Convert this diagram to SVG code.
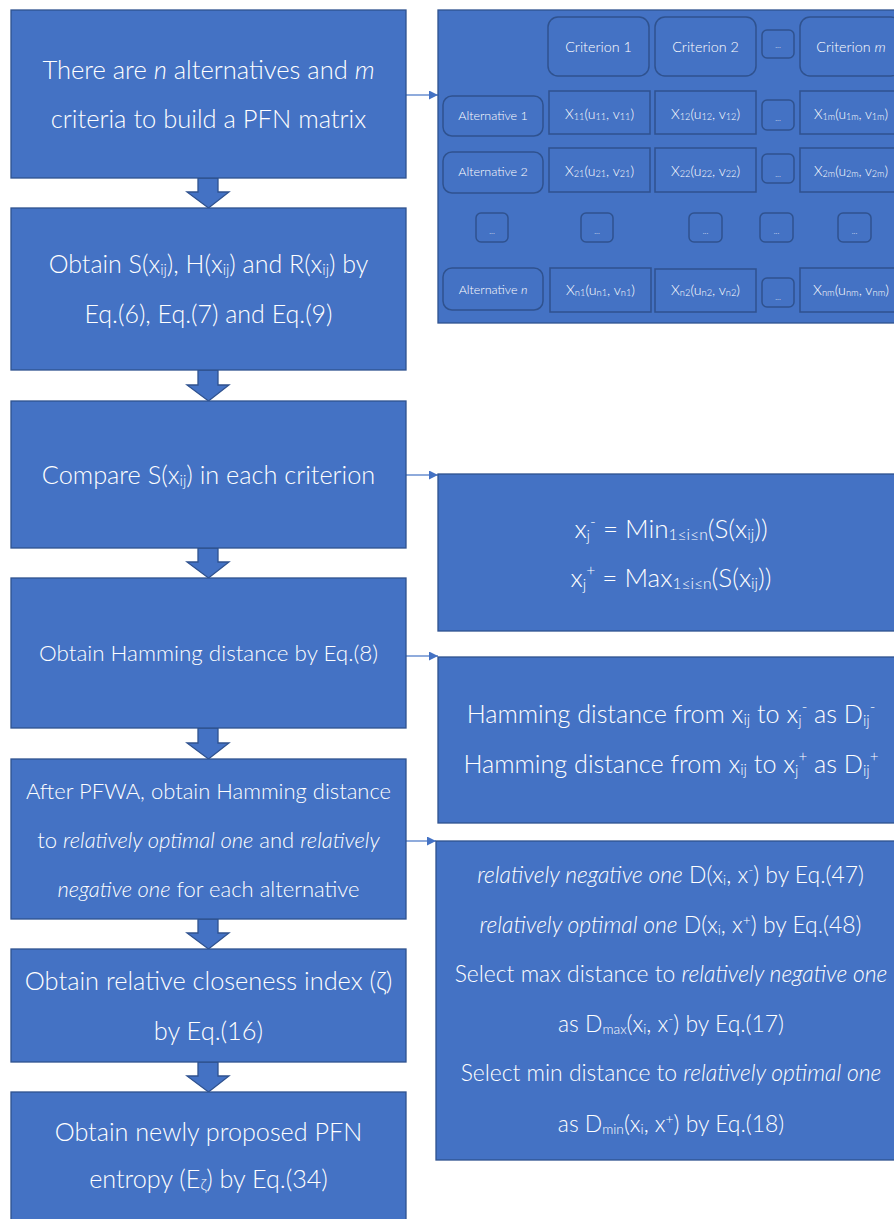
<svg xmlns="http://www.w3.org/2000/svg" width="894" height="1219" viewBox="0 0 894 1219">
<defs>
<style>
.box{fill:#4472C4;stroke:#2F528F;stroke-width:1.3}
.cell{fill:#4472C4;stroke:#2F528F;stroke-width:1.5}
.t{fill:#FFFFFF;font-family:Lato,"Open Sans","Noto Sans",sans-serif;font-weight:300;text-anchor:middle}
.s{font-size:60%}
.ms{font-size:66%}
.i{font-style:italic}
.blk{fill:#4472C4;stroke:#2F528F;stroke-width:1.3}
.ln{stroke:#4472C4;stroke-width:1.2;fill:none}
</style>
<marker id="ah" markerUnits="userSpaceOnUse" markerWidth="10" markerHeight="10" refX="9" refY="4.5" orient="auto">
<path d="M0,0 L9,4.5 L0,9 z" fill="#4472C4"/>
</marker>
</defs>
<rect width="894" height="1219" fill="#FFFFFF"/>

<g id="connectors">
<path class="blk" d="M198,178 H218 V192 H229 L208.5,208 L187,192 H198 Z"/>
<path class="blk" d="M198,370 H218 V385 H229 L208.5,401 L187,385 H198 Z"/>
<path class="blk" d="M198,548 H218 V562 H229 L208.5,578 L187,562 H198 Z"/>
<path class="blk" d="M198,728 H218 V743 H229 L208.5,759 L187,743 H198 Z"/>
<path class="blk" d="M198,919 H218 V933 H229 L208.5,949 L187,933 H198 Z"/>
<path class="blk" d="M198,1062 H218 V1076 H229 L208.5,1092 L187,1076 H198 Z"/>
<line class="ln" x1="406" y1="95" x2="438" y2="95" marker-end="url(#ah)"/>
<line class="ln" x1="406" y1="475" x2="438" y2="475" marker-end="url(#ah)"/>
<line class="ln" x1="406" y1="656" x2="438" y2="656" marker-end="url(#ah)"/>
<line class="ln" x1="406" y1="841" x2="436" y2="841" marker-end="url(#ah)"/>
</g>

<g id="step1">
<rect class="box" x="11" y="10" width="395" height="168"/>
<text class="t" font-size="25.5" x="208.5" y="79">There are <tspan class="i">n</tspan> alternatives and <tspan class="i">m</tspan></text>
<text class="t" font-size="25.5" x="208.5" y="128">criteria to build a PFN matrix</text>
</g>

<g id="step2">
<rect class="box" x="11" y="208" width="395" height="162"/>
<text class="t" font-size="25" x="208.5" y="273">Obtain S(x<tspan class="s" dy="2">ij</tspan><tspan dy="-2">), H(x</tspan><tspan class="s" dy="2">ij</tspan><tspan dy="-2">) and R(x</tspan><tspan class="s" dy="2">ij</tspan><tspan dy="-2">) by</tspan></text>
<text class="t" font-size="25" x="208.5" y="323">Eq.(6), Eq.(7) and Eq.(9)</text>
</g>

<g id="step3">
<rect class="box" x="11" y="401" width="395" height="147"/>
<text class="t" font-size="25.3" x="208.5" y="484">Compare S(x<tspan class="s" dy="2">ij</tspan><tspan dy="-2">) in each criterion</tspan></text>
</g>

<g id="step4">
<rect class="box" x="11" y="578" width="395" height="150"/>
<text class="t" font-size="22.4" x="208.5" y="661">Obtain Hamming distance by Eq.(8)</text>
</g>

<g id="step5">
<rect class="box" x="11" y="759" width="395" height="160"/>
<text class="t" font-size="22" x="208.5" y="799">After PFWA, obtain Hamming distance</text>
<text class="t" font-size="22" x="208.5" y="848">to <tspan class="i">relatively optimal one</tspan> and <tspan class="i">relatively</tspan></text>
<text class="t" font-size="22" x="208.5" y="897"><tspan class="i">negative one</tspan> for each alternative</text>
</g>

<g id="step6">
<rect class="box" x="11" y="949" width="395" height="113"/>
<text class="t" font-size="25.4" x="208.5" y="990">Obtain relative closeness index (ζ)</text>
<text class="t" font-size="25.4" x="208.5" y="1040">by Eq.(16)</text>
</g>

<g id="step7">
<rect class="box" x="11" y="1092" width="395" height="140"/>
<text class="t" font-size="25.2" x="208.5" y="1141">Obtain newly proposed PFN</text>
<text class="t" font-size="25.2" x="208.5" y="1188">entropy (E<tspan class="s" dy="2">ζ</tspan><tspan dy="-2">) by Eq.(34)</tspan></text>
</g>

<g id="matrix">
<rect class="box" x="438" y="10" width="470" height="313"/>
<g id="criterion1"><rect class="cell" x="548" y="17" width="101" height="59" rx="10"/><text class="t" font-size="14.3" x="598.5" y="52">Criterion 1</text></g>
<g id="criterion2"><rect class="cell" x="655" y="17" width="101" height="59" rx="10"/><text class="t" font-size="14.3" x="705.5" y="52">Criterion 2</text></g>
<g id="criterion-dots"><rect class="cell" x="762" y="30" width="32" height="28" rx="5"/><text class="t" font-size="8" x="778" y="48">...</text></g>
<g id="criterionm"><rect class="cell" x="800" y="17" width="101" height="59" rx="10"/><text class="t" font-size="14.3" x="851" y="52">Criterion <tspan class="i">m</tspan></text></g>

<g id="alt1"><rect class="cell" x="443" y="96" width="100" height="40" rx="9"/><text class="t" font-size="12.5" x="493" y="120">Alternative 1</text></g>
<g id="x11"><rect class="cell" x="549" y="91" width="101" height="43"/><text class="t" font-size="14" x="599.5" y="119" textLength="69" lengthAdjust="spacingAndGlyphs">X<tspan class="ms" dy="1">11</tspan><tspan dy="-1">(u</tspan><tspan class="ms" dy="1">11</tspan><tspan dy="-1">, v</tspan><tspan class="ms" dy="1">11</tspan><tspan dy="-1">)</tspan></text></g>
<g id="x12"><rect class="cell" x="655" y="91" width="101" height="43"/><text class="t" font-size="14" x="705.5" y="119" textLength="69" lengthAdjust="spacingAndGlyphs">X<tspan class="ms" dy="1">12</tspan><tspan dy="-1">(u</tspan><tspan class="ms" dy="1">12</tspan><tspan dy="-1">, v</tspan><tspan class="ms" dy="1">12</tspan><tspan dy="-1">)</tspan></text></g>
<g id="row1-dots"><rect class="cell" x="762" y="100" width="32" height="30" rx="5"/><text class="t" font-size="8" x="778" y="121">...</text></g>
<g id="x1m"><rect class="cell" x="800" y="91" width="101" height="43"/><text class="t" font-size="14" x="851" y="119" textLength="74" lengthAdjust="spacingAndGlyphs">X<tspan class="ms" dy="1">1m</tspan><tspan dy="-1">(u</tspan><tspan class="ms" dy="1">1m</tspan><tspan dy="-1">, v</tspan><tspan class="ms" dy="1">1m</tspan><tspan dy="-1">)</tspan></text></g>

<g id="alt2"><rect class="cell" x="443" y="152" width="100" height="41" rx="9"/><text class="t" font-size="12.5" x="493" y="176">Alternative 2</text></g>
<g id="x21"><rect class="cell" x="549" y="148" width="101" height="44"/><text class="t" font-size="14" x="599.5" y="176" textLength="69" lengthAdjust="spacingAndGlyphs">X<tspan class="ms" dy="1">21</tspan><tspan dy="-1">(u</tspan><tspan class="ms" dy="1">21</tspan><tspan dy="-1">, v</tspan><tspan class="ms" dy="1">21</tspan><tspan dy="-1">)</tspan></text></g>
<g id="x22"><rect class="cell" x="655" y="148" width="101" height="44"/><text class="t" font-size="14" x="705.5" y="176" textLength="69" lengthAdjust="spacingAndGlyphs">X<tspan class="ms" dy="1">22</tspan><tspan dy="-1">(u</tspan><tspan class="ms" dy="1">22</tspan><tspan dy="-1">, v</tspan><tspan class="ms" dy="1">22</tspan><tspan dy="-1">)</tspan></text></g>
<g id="row2-dots"><rect class="cell" x="762" y="154" width="32" height="29" rx="5"/><text class="t" font-size="8" x="778" y="177">...</text></g>
<g id="x2m"><rect class="cell" x="800" y="148" width="101" height="44"/><text class="t" font-size="14" x="851" y="176" textLength="74" lengthAdjust="spacingAndGlyphs">X<tspan class="ms" dy="1">2m</tspan><tspan dy="-1">(u</tspan><tspan class="ms" dy="1">2m</tspan><tspan dy="-1">, v</tspan><tspan class="ms" dy="1">2m</tspan><tspan dy="-1">)</tspan></text></g>

<g id="dots-alt"><rect class="cell" x="476" y="213" width="32" height="29" rx="5"/><text class="t" font-size="8" x="492" y="234">...</text></g>
<g id="dots-c1"><rect class="cell" x="581" y="213" width="32" height="29" rx="5"/><text class="t" font-size="8" x="597" y="234">...</text></g>
<g id="dots-c2"><rect class="cell" x="689" y="213" width="33" height="29" rx="5"/><text class="t" font-size="8" x="705.5" y="234">...</text></g>
<g id="dots-c3"><rect class="cell" x="760" y="213" width="33" height="29" rx="5"/><text class="t" font-size="8" x="776.5" y="234">...</text></g>
<g id="dots-cm"><rect class="cell" x="838" y="213" width="33" height="29" rx="5"/><text class="t" font-size="8" x="854.5" y="234">...</text></g>

<g id="altn"><rect class="cell" x="443" y="268" width="100" height="42" rx="9"/><text class="t" font-size="12.5" x="493" y="294">Alternative <tspan class="i">n</tspan></text></g>
<g id="xn1"><rect class="cell" x="550" y="268" width="101" height="44"/><text class="t" font-size="14" x="600.5" y="295" textLength="69" lengthAdjust="spacingAndGlyphs">X<tspan class="ms" dy="1">n1</tspan><tspan dy="-1">(u</tspan><tspan class="ms" dy="1">n1</tspan><tspan dy="-1">, v</tspan><tspan class="ms" dy="1">n1</tspan><tspan dy="-1">)</tspan></text></g>
<g id="xn2"><rect class="cell" x="655" y="269" width="101" height="43"/><text class="t" font-size="14" x="705.5" y="295" textLength="69" lengthAdjust="spacingAndGlyphs">X<tspan class="ms" dy="1">n2</tspan><tspan dy="-1">(u</tspan><tspan class="ms" dy="1">n2</tspan><tspan dy="-1">, v</tspan><tspan class="ms" dy="1">n2</tspan><tspan dy="-1">)</tspan></text></g>
<g id="rown-dots"><rect class="cell" x="762" y="278" width="32" height="29" rx="5"/><text class="t" font-size="8" x="778" y="300">...</text></g>
<g id="xnm"><rect class="cell" x="800" y="268" width="101" height="44"/><text class="t" font-size="14" x="851" y="295" textLength="76" lengthAdjust="spacingAndGlyphs">X<tspan class="ms" dy="1">nm</tspan><tspan dy="-1">(u</tspan><tspan class="ms" dy="1">nm</tspan><tspan dy="-1">, v</tspan><tspan class="ms" dy="1">nm</tspan><tspan dy="-1">)</tspan></text></g>
</g>

<g id="ideal">
<rect class="box" x="438" y="474" width="470" height="157"/>
<text class="t" font-size="26" x="671" y="538">x<tspan class="s" dy="3">j</tspan><tspan class="s" dy="-14">-</tspan><tspan dy="11"> = Min</tspan><tspan class="s" dy="2">1≤i≤n</tspan><tspan dy="-2">(S(x</tspan><tspan class="s" dy="2">ij</tspan><tspan dy="-2">))</tspan></text>
<text class="t" font-size="26" x="671" y="587">x<tspan class="s" dy="3">j</tspan><tspan class="s" dy="-14">+</tspan><tspan dy="11"> = Max</tspan><tspan class="s" dy="2">1≤i≤n</tspan><tspan dy="-2">(S(x</tspan><tspan class="s" dy="2">ij</tspan><tspan dy="-2">))</tspan></text>
</g>

<g id="hamming">
<rect class="box" x="438" y="657" width="470" height="166"/>
<text class="t" font-size="25.2" x="671" y="723">Hamming distance from x<tspan class="s" dy="2">ij</tspan><tspan dy="-2"> to x</tspan><tspan class="s" dy="3">j</tspan><tspan class="s" dy="-14">-</tspan><tspan dy="11"> as D</tspan><tspan class="s" dy="3">ij</tspan><tspan class="s" dy="-14">-</tspan></text>
<text class="t" font-size="25.2" x="671" y="773">Hamming distance from x<tspan class="s" dy="2">ij</tspan><tspan dy="-2"> to x</tspan><tspan class="s" dy="3">j</tspan><tspan class="s" dy="-14">+</tspan><tspan dy="11"> as D</tspan><tspan class="s" dy="3">ij</tspan><tspan class="s" dy="-14">+</tspan></text>
</g>

<g id="distances">
<rect class="box" x="436" y="841" width="472" height="319"/>
<text class="t" font-size="22.9" x="670.5" y="883"><tspan class="i">relatively negative one</tspan> D(x<tspan class="s" dy="2">i</tspan><tspan dy="-2">, x</tspan><tspan class="s" dy="-8">-</tspan><tspan dy="8">) by Eq.(47)</tspan></text>
<text class="t" font-size="22.9" x="670.5" y="933"><tspan class="i">relatively optimal one</tspan> D(x<tspan class="s" dy="2">i</tspan><tspan dy="-2">, x</tspan><tspan class="s" dy="-8">+</tspan><tspan dy="8">) by Eq.(48)</tspan></text>
<text class="t" font-size="22.9" x="671" y="982">Select max distance to <tspan class="i">relatively negative one</tspan></text>
<text class="t" font-size="22.9" x="671" y="1032">as D<tspan class="s" dy="2">max</tspan><tspan dy="-2">(x</tspan><tspan class="s" dy="2">i</tspan><tspan dy="-2">, x</tspan><tspan class="s" dy="-8">-</tspan><tspan dy="8">) by Eq.(17)</tspan></text>
<text class="t" font-size="22.9" x="671" y="1081">Select min distance to <tspan class="i">relatively optimal one</tspan></text>
<text class="t" font-size="22.9" x="671" y="1132">as D<tspan class="s" dy="2">min</tspan><tspan dy="-2">(x</tspan><tspan class="s" dy="2">i</tspan><tspan dy="-2">, x</tspan><tspan class="s" dy="-8">+</tspan><tspan dy="8">) by Eq.(18)</tspan></text>
</g>
</svg>
